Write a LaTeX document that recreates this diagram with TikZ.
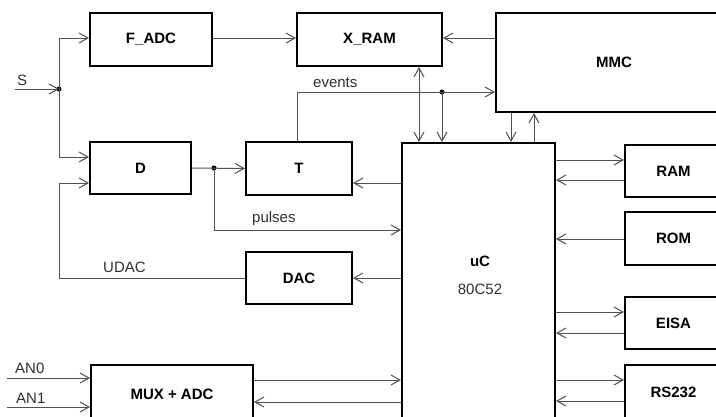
\documentclass[tikz,border=0pt]{standalone}
\usepackage{fontspec}
\setmainfont{Liberation Sans}
\usetikzlibrary{arrows.meta}
\definecolor{lc}{HTML}{505050}
\definecolor{tc}{HTML}{303030}
\tikzset{
  box/.style={draw=black, line width=2pt, fill=white, inner sep=0pt, font=\fontsize{15}{18}\selectfont\bfseries},
  conn/.style={draw=lc, line width=1pt},
  arr/.style={conn, -{Straight Barb[length=9pt,width=10pt]}},
  arrb/.style={conn, {Straight Barb[length=9pt,width=10pt]}-{Straight Barb[length=9pt,width=10pt]}},
  junc/.style={circle, fill=black, inner sep=0pt, minimum size=5pt},
  lbl/.style={text=tc, inner sep=0pt, font=\fontsize{15}{18}\selectfont},
  blbl/.style={text=black, inner sep=0pt, font=\fontsize{15}{18}\selectfont\bfseries}
}
\begin{document}
\begin{tikzpicture}[x=1pt,y=-1pt]
\clip (0,0) rectangle (716,416);
\fill[white] (0,0) rectangle (716,416);
% boxes
\node[box, minimum width=122pt, minimum height=53pt] (fadc) at (151,39.5) {F\_ADC};
\node[box, minimum width=145pt, minimum height=53pt] (xram) at (369.5,39.5) {X\_RAM};
\node[box, minimum width=236pt, minimum height=99pt] (mmc) at (614,62.5) {MMC};
\node[box, minimum width=101pt, minimum height=52pt] (d) at (140.5,168) {D};
\node[box, minimum width=106pt, minimum height=53pt] (t) at (299,168.5) {T};
\node[box, minimum width=106pt, minimum height=52pt] (dac) at (299,278) {DAC};
\node[box, minimum width=153pt, minimum height=297pt] (uc) at (478.5,291.5) {};
\node[blbl] (ucl) at (480,261) {uC};
\node[lbl] (ucn) at (480,289) {80C52};
\node[box, minimum width=97pt, minimum height=52pt] (ram) at (673.5,171) {RAM};
\node[box, minimum width=97pt, minimum height=53pt] (rom) at (673.5,238.5) {ROM};
\node[box, minimum width=97pt, minimum height=52pt] (eisa) at (673.5,323) {EISA};
\node[box, minimum width=97pt, minimum height=54pt] (rs) at (673.5,392) {RS232};
\node[box, minimum width=162pt, minimum height=58pt] (mux) at (172,394) {MUX + ADC};
% junctions and free ends
\coordinate (sin) at (15,89);
\coordinate (an0) at (7,378);
\coordinate (an1) at (7,407);
\coordinate (ucorner) at (59,278);
\node[junc] (j1) at (59,89) {};
\node[junc] (j2) at (442,92) {};
\node[junc] (j3) at (214,168) {};
% labels
\node[lbl, anchor=west] (ls) at (17,80) {S};
\node[lbl, anchor=west] (lev) at (313,83) {events};
\node[lbl, anchor=west] (lpu) at (252,219) {pulses};
\node[lbl, anchor=west] (lud) at (103,267) {UDAC};
\node[lbl, anchor=west] (la0) at (15,368) {AN0};
\node[lbl, anchor=west] (la1) at (16,398) {AN1};
% connectors
\draw[arr] (sin) -- (j1.center);
\draw[arr] (j1.center) |- (fadc.west |- 0,38);
\draw[arr] (j1.center) |- (d.west |- 0,157);
\draw[arr] (dac.west) -- (ucorner) |- (d.west |- 0,183);
\draw[arr] (fadc.east |- 0,38) -- (xram.west |- 0,38);
\draw[arr] (mmc.west |- 0,38) -- (xram.east |- 0,38);
\draw[arrb] (xram.south -| 419,0) -- (uc.north -| 419,0);
\draw[arr] (t.north -| 297,0) |- (mmc.west |- 0,92);
\draw[arr] (j2.center) -- (uc.north -| j2);
\draw[arr] (mmc.south -| 511,0) -- (uc.north -| 511,0);
\draw[arr] (uc.north -| 534,0) -- (mmc.south -| 534,0);
\draw[arr] (d.east) -- (t.west);
\draw[arr] (j3.center) |- (uc.west |- 0,230);
\draw[arr] (uc.west |- 0,183) -- (t.east |- 0,183);
\draw[arr] (uc.west |- dac.east) -- (dac.east);
\draw[arr] (uc.east |- 0,160) -- (ram.west |- 0,160);
\draw[arr] (ram.west |- 0,180) -- (uc.east |- 0,180);
\draw[arr] (rom.west |- 0,239) -- (uc.east |- 0,239);
\draw[arr] (uc.east |- 0,312) -- (eisa.west |- 0,312);
\draw[arr] (eisa.west |- 0,333) -- (uc.east |- 0,333);
\draw[arr] (uc.east |- 0,380) -- (rs.west |- 0,380);
\draw[arr] (rs.west |- 0,401) -- (uc.east |- 0,401);
\draw[arr] (mux.east |- 0,380) -- (uc.west |- 0,380);
\draw[arr] (uc.west |- 0,402) -- (mux.east |- 0,402);
\draw[arr] (an0) -- (mux.west |- an0);
\draw[arr] (an1) -- (mux.west |- an1);
\end{tikzpicture}
\end{document}
